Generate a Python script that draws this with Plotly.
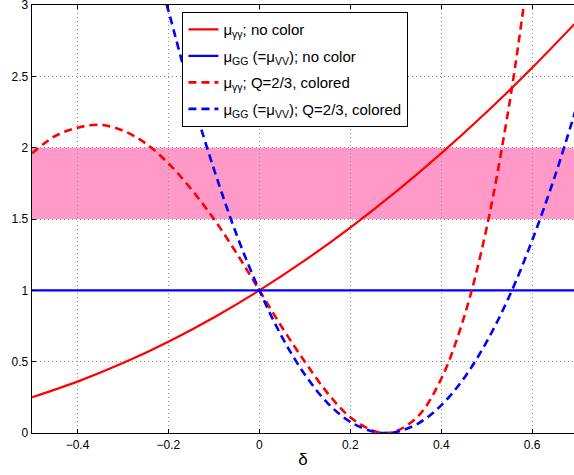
import plotly.graph_objects as go

delta_solid = [-0.5, -0.4, -0.3, -0.2, -0.1, 0.0, 0.1, 0.2, 0.3, 0.4, 0.5, 0.6, 0.7]
mu_gg_nocolor_red = [0.25, 0.36, 0.49, 0.64, 0.81, 1.0, 1.21, 1.44, 1.69, 1.96, 2.25, 2.56, 2.89]

delta_flat = [-0.5, 0.7]
mu_GG_nocolor = [1.0, 1.0]

delta_red_dash = [-0.5, -0.45, -0.4, -0.35, -0.3, -0.25, -0.2, -0.15, -0.1, -0.05, 0.0,
                  0.05, 0.1, 0.15, 0.2, 0.25, 0.278, 0.3, 0.35, 0.4, 0.45, 0.5, 0.55, 0.58, 0.6]
mu_gg_colored = [1.96, 2.08, 2.14, 2.16, 2.12, 2.03, 1.89, 1.71, 1.50, 1.26, 1.0,
                 0.74, 0.50, 0.28, 0.11, 0.016, 0.0, 0.011, 0.12, 0.38, 0.81, 1.44, 2.31, 2.96, 3.44]

delta_blue_dash = [-0.22, -0.2, -0.15, -0.1, -0.05, 0.0, 0.05, 0.1, 0.15, 0.2, 0.25, 0.278,
                   0.3, 0.35, 0.4, 0.45, 0.5, 0.55, 0.6, 0.65, 0.7]
mu_GG_colored = [3.18, 2.96, 2.37, 1.85, 1.39, 1.0, 0.672, 0.41, 0.21, 0.078, 0.01, 0.0,
                 0.0064, 0.068, 0.194, 0.384, 0.64, 0.96, 1.35, 1.80, 2.31]

band_low, band_high = 1.5, 2.0

x_ticks = [-0.4, -0.2, 0, 0.2, 0.4, 0.6]
y_ticks = [0, 0.5, 1, 1.5, 2, 2.5, 3]
y_ticklabels = ["0", "0.5", "1", "1.5", "2", "2.5", "3"]

names = [
    "μ<sub>γγ</sub>; no color",
    "μ<sub>GG</sub> (=μ<sub>VV</sub>); no color",
    "μ<sub>γγ</sub>; Q=2/3, colored",
    "μ<sub>GG</sub> (=μ<sub>VV</sub>); Q=2/3, colored",
]

RED = "#ff0000"
BLUE = "#0000ff"

fig = go.Figure()
fig.add_trace(go.Scatter(x=delta_solid, y=mu_gg_nocolor_red, mode="lines", name=names[0],
                         legendgroup="a",
                         line=dict(color=RED, width=2.2, shape="spline")))
fig.add_trace(go.Scatter(x=delta_flat, y=mu_GG_nocolor, mode="lines", name=names[1],
                         legendgroup="b",
                         line=dict(color=BLUE, width=2.2)))
fig.add_trace(go.Scatter(x=delta_red_dash, y=mu_gg_colored, mode="lines", name=names[2],
                         legendgroup="c",
                         line=dict(color=RED, width=2.6, dash="8px,5px", shape="spline")))
fig.add_trace(go.Scatter(x=delta_blue_dash, y=mu_GG_colored, mode="lines", name=names[3],
                         legendgroup="d",
                         line=dict(color=BLUE, width=2.6, dash="8px,5px", shape="spline")))

fig.add_shape(type="rect", xref="paper", x0=0, x1=1, yref="y", y0=band_low, y1=band_high,
              fillcolor="#ff99c8", line=dict(width=0), layer="between")

font_family = "Liberation Sans, Arial, sans-serif"

fig.update_layout(
    width=574, height=475,
    margin=dict(l=32, r=0, t=5, b=42),
    paper_bgcolor="white", plot_bgcolor="white",
    font=dict(family=font_family, size=12, color="black"),
    showlegend=True,
    legend=dict(
        x=0.277, y=0.984, xanchor="left", yanchor="top",
        bgcolor="white", bordercolor="black", borderwidth=1.3,
        font=dict(family=font_family, size=15, color="black"),
        itemwidth=30, tracegroupgap=4,
    ),
    xaxis=dict(
        range=[-0.5, 0.692], tickvals=x_ticks, ticks="inside", ticklen=4,
        tickcolor="black", showline=True, linecolor="black", linewidth=1.3,
        mirror="ticks", showgrid=True, gridcolor="#8c8c8c", griddash="1px,3px",
        gridwidth=1, zeroline=False, tickfont=dict(size=12), automargin=False,
        title=dict(text="δ", font=dict(size=17), standoff=2),
    ),
    yaxis=dict(
        range=[0, 3], tickvals=y_ticks, ticktext=y_ticklabels, ticks="inside",
        ticklen=4, tickcolor="black", showline=True, linecolor="black",
        linewidth=1.3, mirror=False, showgrid=True, gridcolor="#8c8c8c",
        griddash="1px,3px", gridwidth=1, zeroline=False, tickfont=dict(size=12),
        automargin=False, ticklabeloverflow="allow",
    ),
)

fig.write_html(
    "out.html",
    config={"displayModeBar": False, "staticPlot": True},
    post_script="document.body.style.margin='0';document.body.style.overflow='hidden';",
)
